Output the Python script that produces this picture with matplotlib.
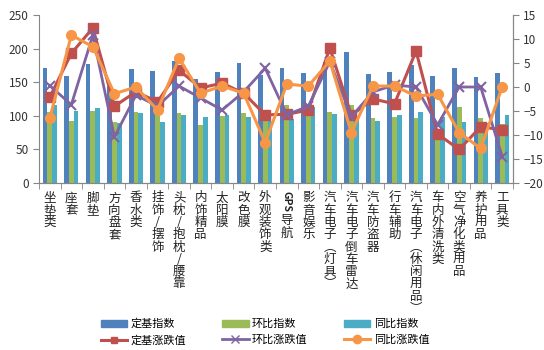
import numpy as np
import matplotlib
matplotlib.use("Agg")
import matplotlib.pyplot as plt
from matplotlib.patches import Patch
from matplotlib.lines import Line2D

plt.rcParams['font.family'] = ['Noto Sans CJK SC', 'DejaVu Sans']

# 品类
cats = ["坐垫类", "座套", "脚垫", "方向盘套", "香水类", "挂饰/摆饰", "头枕/抱枕/腰靠",
        "内饰精品", "太阳膜", "改色膜", "外观装饰类", "GPS导航", "影音娱乐",
        "汽车电子（灯具）", "汽车电子倒车雷达", "汽车防盗器", "行车辅助",
        "汽车电子（休闲用品）", "车内外清洗类", "空气净化类用品", "养护用品", "工具类"]

# 指数 (左轴)
dingji_idx = [171, 159, 177, 145, 170, 166, 181, 155, 165, 179, 161, 171, 164, 180, 195, 162,
              165, 175, 159, 171, 157, 164]
huanbi_idx = [105, 93, 107, 91, 106, 104, 104, 86, 100, 104, 95, 116, 100, 106, 116, 97,
              98, 96, 80, 113, 97, 88]
tongbi_idx = [116, 107, 111, 90, 104, 91, 101, 98, 101, 98, 93, 95, 113, 103, 94, 92,
              101, 106, 98, 91, 90, 101]

# 涨跌值 (右轴)
dingji_chg = [-2.1, 7.0, 12.3, -4.0, -1.0, -3.1, 3.5, -0.2, 0.8, -1.3, -5.8, -5.7, -4.8, 8.1,
              -5.9, -2.5, -3.5, 7.5, -9.8, -13.0, -8.3, -8.9]
huanbi_chg = [0.3, -3.7, 10.8, -10.4, -1.7, -4.0, 0.2, -2.3, -4.8, -1.0, 3.9, -5.8, -4.0, 5.3,
              -6.2, -1.0, 0.4, 0.0, -7.9, 0.0, 0.0, -14.5]
tongbi_chg = [-6.5, 10.8, 8.4, -1.4, 0.0, -4.8, 6.0, -1.3, 0.2, -1.3, -11.6, 0.6, 0.2, 5.4,
              -9.5, 0.2, 0.2, -1.9, -1.5, -9.5, -12.8, 0.0]

c_blue, c_green, c_teal = "#4F81BD", "#9BBB59", "#4BACC6"
c_red, c_purple, c_orange = "#C0504D", "#8064A2", "#F79646"
gray = "#868686"

fig = plt.figure(figsize=(5.44, 3.5), dpi=100)
ax = fig.add_axes([39 / 544, 1 - 183 / 350, 474 / 544, 168 / 350])
ax2 = ax.twinx()

x = np.arange(len(cats))
w = 0.22
ax.bar(x - w, dingji_idx, w, color=c_blue)
ax.bar(x, huanbi_idx, w, color=c_green)
ax.bar(x + w, tongbi_idx, w, color=c_teal)

ax2.plot(x, dingji_chg, color=c_red, lw=2.2, marker='s', ms=6.5)
ax2.plot(x, huanbi_chg, color=c_purple, lw=2.0, marker='x', ms=7, mew=1.5)
ax2.plot(x, tongbi_chg, color=c_orange, lw=2.2, marker='o', ms=7)

ax.set_xlim(-0.5, len(cats) - 0.5)
ax.set_ylim(0, 250)
ax2.set_ylim(-20, 15)
ax.set_yticks(range(0, 251, 50))
ax2.set_yticks(range(-20, 16, 5))

for a in (ax, ax2):
    a.spines['top'].set_visible(False)
    for s in ('left', 'right', 'bottom'):
        a.spines[s].set_color(gray)
    a.tick_params(axis='y', colors=gray, labelcolor='#333333', labelsize=8.5, length=4)
ax2.spines['left'].set_visible(False)

ax.set_xticks(x)
ax.set_xticklabels([])
ax.tick_params(axis='x', which='major', length=0)
ax.set_xticks(np.arange(-0.5, len(cats), 1), minor=True)
ax.tick_params(axis='x', which='minor', length=4, color=gray)


def vert(s):
    s = s.replace("（", "︵").replace("）", "︶")
    return "\n".join(s)


tr = ax.get_xaxis_transform()
for i, c in enumerate(cats):
    if c.startswith("GPS"):
        ax.text(i, -0.05, "GPS", rotation=270, ha='center', va='top', fontsize=7.5,
                transform=tr, color='#222222', fontweight='bold')
        ax.text(i, -0.05 - 23 / 168, vert(c[3:]), ha='center', va='top', fontsize=9,
                transform=tr, color='#222222', linespacing=0.93)
    else:
        ax.text(i, -0.05, vert(c), ha='center', va='top', fontsize=9,
                transform=tr, color='#222222', linespacing=0.93)

handles = [Patch(color=c_blue), Line2D([], [], color=c_red, lw=2.2, marker='s', ms=5),
           Patch(color=c_green), Line2D([], [], color=c_purple, lw=2, marker='x', ms=6),
           Patch(color=c_teal), Line2D([], [], color=c_orange, lw=2.2, marker='o', ms=6)]
labels = ["定基指数", "定基涨跌值", "环比指数", "环比涨跌值", "同比指数", "同比涨跌值"]
fig.legend(handles, labels, ncol=3, loc='center', bbox_to_anchor=(0.487, 1 - 332 / 350),
           frameon=False, fontsize=8, handlelength=2.35, handleheight=0.6,
           columnspacing=3.3, labelspacing=0.5, handletextpad=0.3)

fig.savefig("out.png", dpi=100)
